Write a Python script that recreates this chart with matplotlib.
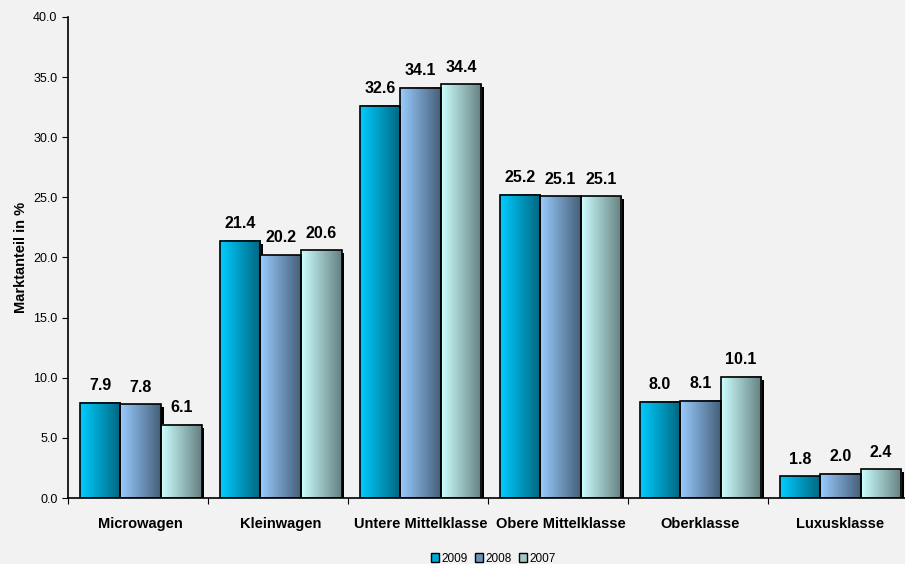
import matplotlib.pyplot as plt
import numpy as np
from matplotlib.colors import LinearSegmentedColormap
from matplotlib.patches import Rectangle, Patch

categories = ["Microwagen", "Kleinwagen", "Untere Mittelklasse",
              "Obere Mittelklasse", "Oberklasse", "Luxusklasse"]
years = ["2009", "2008", "2007"]
share_2009 = [7.9, 21.4, 32.6, 25.2, 8.0, 1.8]
share_2008 = [7.8, 20.2, 34.1, 25.1, 8.1, 2.0]
share_2007 = [6.1, 20.6, 34.4, 25.1, 10.1, 2.4]

# light -> dark gradient for each series
grad_colors = [("#00CCFF", "#006680"), ("#99CCFF", "#46607A"), ("#CCFFFF", "#668080")]
legend_colors = ["#00A8D8", "#6F93B8", "#A0C8C8"]

plt.rcParams["font.family"] = ["Liberation Sans", "DejaVu Sans"]

fig = plt.figure(figsize=(9.05, 5.64), dpi=100, facecolor="#F2F2F2")
ax = fig.add_axes([0.075, 0.117, 0.928, 0.853])
ax.set_facecolor("#F2F2F2")

x = np.arange(len(categories))
width = 0.29
shift = 0.02  # bars sit a little right of the category centre
series = [share_2009, share_2008, share_2007]
dx, dy = 0.021, 0.25  # shadow offset

# shadow first
for i, vals in enumerate(series):
    for xi, v in zip(x, vals):
        x0 = xi + shift + (i - 1) * width - width / 2
        ax.add_patch(Rectangle((x0 + dx, 0), width, v - dy, facecolor="black",
                               edgecolor="none", zorder=1, clip_on=False))

grad = np.linspace(0, 1, 64).reshape(1, -1)
for i, vals in enumerate(series):
    cmap = LinearSegmentedColormap.from_list(years[i], grad_colors[i])
    for xi, v in zip(x, vals):
        x0 = xi + shift + (i - 1) * width - width / 2
        ax.imshow(grad, cmap=cmap, extent=[x0, x0 + width, 0, v],
                  aspect="auto", zorder=2, interpolation="bilinear")
        ax.add_patch(Rectangle((x0, 0), width, v, facecolor="none",
                               edgecolor="black", linewidth=1.2, zorder=3))
        ax.text(x0 + width / 2, v + 0.8, f"{v:.1f}", ha="center", va="bottom",
                fontsize=11.5, fontweight="bold", zorder=4)

ax.set_xlim(-0.5, len(categories) - 0.5)
ax.set_ylim(0, 40)
ax.set_yticks(np.arange(0, 40.1, 5))
ax.set_yticklabels([f"{t:.1f}" for t in np.arange(0, 40.1, 5)], fontsize=9)
ax.set_xticks(np.arange(-0.5, len(categories), 1))
ax.set_xticklabels([])
ax.set_xticks(x + shift, minor=True)
ax.set_xticklabels(categories, minor=True, fontsize=10.5, fontweight="bold")
ax.tick_params(axis="x", which="minor", length=0, pad=14)
ax.tick_params(axis="x", which="major", length=4, direction="out")
ax.tick_params(axis="y", length=4, direction="out")
for s in ["top", "right"]:
    ax.spines[s].set_visible(False)
ax.spines["left"].set_linewidth(1.2)
ax.spines["bottom"].set_linewidth(1.2)
ax.spines["bottom"].set_zorder(5)

ax.set_ylabel("Marktanteil in %", fontsize=10.5, fontweight="bold")

handles = [Patch(facecolor=legend_colors[i], edgecolor="black", label=years[i])
           for i in range(3)]
fig.legend(handles=handles, loc="lower center", bbox_to_anchor=(0.545, -0.02),
           ncol=3, fontsize=8.5, frameon=False, handlelength=0.7, handleheight=0.7,
           handletextpad=0.2, columnspacing=0.6)

fig.savefig("out.png", dpi=100, facecolor=fig.get_facecolor())
